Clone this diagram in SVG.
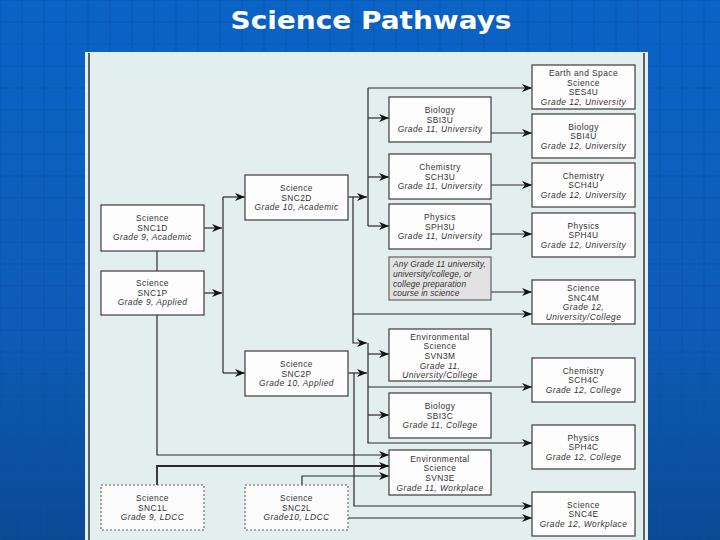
<svg xmlns="http://www.w3.org/2000/svg" width="720" height="540" viewBox="0 0 720 540">
<defs>
<linearGradient id="bg" x1="0" y1="0" x2="0" y2="1">
<stop offset="0" stop-color="#0b63c6"/>
<stop offset="0.6" stop-color="#0e5cb8"/>
<stop offset="1" stop-color="#0a4a95"/>
</linearGradient>
<pattern id="grid" width="22" height="22" patternUnits="userSpaceOnUse">
<rect x="0" y="0" width="22" height="22" fill="none" stroke="#0a4f9f" stroke-width="1.2" opacity="0.5"/>
</pattern>
<marker id="ah" markerUnits="userSpaceOnUse" markerWidth="11" markerHeight="8" refX="10" refY="4" orient="auto" viewBox="0 0 10 8">
<path d="M0,0 L10,4 L0,8 L3,4 z" fill="#111"/>
</marker>
<style>
.box{fill:#fdfdfd;stroke:#4a4a4a;stroke-width:1.3}
.dash{fill:#fbfbfb;stroke:#666;stroke-width:1.1;stroke-dasharray:2 2}
.grey{fill:#e2e2e2;stroke:#6a6a6a;stroke-width:1.3}
text{font-family:"Liberation Sans",Arial,sans-serif;font-size:8.4px;letter-spacing:0.45px;fill:#333;text-anchor:middle}
.i{font-style:italic}
.l{text-anchor:start;letter-spacing:0.1px}
.c path{fill:none;stroke:#2a2a2a;stroke-width:1.2}
.c .a{marker-end:url(#ah)}
</style>
</defs>
<rect width="720" height="540" fill="url(#bg)"/>
<rect width="720" height="540" fill="url(#grid)"/>
<text x="371" y="29" style="font-family:'DejaVu Sans','Liberation Sans',sans-serif;font-size:24px;font-weight:bold;fill:#fff;letter-spacing:0" textLength="281" lengthAdjust="spacingAndGlyphs">Science Pathways</text>
<rect x="85" y="52" width="563" height="488" fill="#e3eeee"/>
<line x1="89" y1="53" x2="89" y2="540" stroke="#333" stroke-width="1.5"/>
<line x1="644" y1="53" x2="644" y2="540" stroke="#333" stroke-width="1.5"/>

<g id="connectors" class="c">
<path class="a" d="M204,228 H222"/>
<path class="a" d="M204,293 H222"/>
<path d="M223,197 V373"/>
<path class="a" d="M223,197 H245"/>
<path class="a" d="M223,373 H245"/>
<path d="M157,251 V271"/>
<path class="a" d="M157,315 V455 H389"/>
<path class="a" d="M157,485 V466 H389" style="stroke-width:1.8"/>
<path class="a" d="M302,485 V476 H389"/>
<path class="a" d="M348,197 H367"/>
<path d="M368,88 V226"/>
<path class="a" d="M368,88 H532"/>
<path class="a" d="M368,118 H389"/>
<path class="a" d="M368,177 H389"/>
<path class="a" d="M368,226 H389"/>
<path class="a" d="M353,197 V343 H367"/>
<path class="a" d="M353,314 H532"/>
<path class="a" d="M348,373 H367"/>
<path class="a" d="M354,373 V506 H532"/>
<path class="a" d="M368,343 V443 H532"/>
<path class="a" d="M368,354 H389"/>
<path class="a" d="M368,387 H532"/>
<path class="a" d="M368,415 H389"/>
<path class="a" d="M491,133 H532"/>
<path class="a" d="M491,185 H532"/>
<path class="a" d="M491,234 H532"/>
<path class="a" d="M491,292 H532"/>
<path class="a" d="M348,518 H532"/>
</g>

<g id="SNC1D"><rect class="box" x="101" y="205" width="103" height="46"/>
<text x="152.5" y="221">Science</text><text x="152.5" y="230.7">SNC1D</text><text class="i" x="152.5" y="240.4">Grade 9, Academic</text></g>
<g id="SNC1P"><rect class="box" x="101" y="271" width="103" height="44"/>
<text x="152.5" y="286">Science</text><text x="152.5" y="295.7">SNC1P</text><text class="i" x="152.5" y="305.4">Grade 9, Applied</text></g>
<g id="SNC1L"><rect class="dash" x="101" y="485" width="103" height="45"/>
<text x="152.5" y="501">Science</text><text x="152.5" y="510.7">SNC1L</text><text class="i" x="152.5" y="520.4">Grade 9, LDCC</text></g>

<g id="SNC2D"><rect class="box" x="245" y="175" width="103" height="45"/>
<text x="296.5" y="191">Science</text><text x="296.5" y="200.7">SNC2D</text><text class="i" x="296.5" y="210.4">Grade 10, Academic</text></g>
<g id="SNC2P"><rect class="box" x="245" y="351" width="103" height="45"/>
<text x="296.5" y="367">Science</text><text x="296.5" y="376.7">SNC2P</text><text class="i" x="296.5" y="386.4">Grade 10, Applied</text></g>
<g id="SNC2L"><rect class="dash" x="245" y="485" width="103" height="45"/>
<text x="296.5" y="501">Science</text><text x="296.5" y="510.7">SNC2L</text><text class="i" x="296.5" y="520.4">Grade10, LDCC</text></g>

<g id="SBI3U"><rect class="box" x="389" y="97" width="102" height="45"/>
<text x="440" y="113">Biology</text><text x="440" y="122.7">SBI3U</text><text class="i" x="440" y="132.4">Grade 11, University</text></g>
<g id="SCH3U"><rect class="box" x="389" y="154" width="102" height="45"/>
<text x="440" y="170">Chemistry</text><text x="440" y="179.7">SCH3U</text><text class="i" x="440" y="189.4">Grade 11, University</text></g>
<g id="SPH3U"><rect class="box" x="389" y="204" width="102" height="45"/>
<text x="440" y="220">Physics</text><text x="440" y="229.7">SPH3U</text><text class="i" x="440" y="239.4">Grade 11, University</text></g>
<g id="AnyGrade11"><rect class="grey" x="389" y="257" width="102" height="43"/>
<text class="i l" x="393" y="267.3">Any Grade 11 university,</text><text class="i l" x="393" y="277">university/college, or</text><text class="i l" x="393" y="286.7">college preparation</text><text class="i l" x="393" y="296.4">course in science</text></g>
<g id="SVN3M"><rect class="box" x="389" y="329" width="102" height="52"/>
<text x="440" y="339.5">Environmental</text><text x="440" y="349.2">Science</text><text x="440" y="358.9">SVN3M</text><text class="i" x="440" y="368.6">Grade 11,</text><text class="i" x="440" y="378.3">University/College</text></g>
<g id="SBI3C"><rect class="box" x="389" y="393" width="102" height="45"/>
<text x="440" y="409">Biology</text><text x="440" y="418.7">SBI3C</text><text class="i" x="440" y="428.4">Grade 11, College</text></g>
<g id="SVN3E"><rect class="box" x="389" y="450" width="102" height="45"/>
<text x="440" y="461.7">Environmental</text><text x="440" y="471.4">Science</text><text x="440" y="481.1">SVN3E</text><text class="i" x="440" y="490.8">Grade 11, Workplace</text></g>

<g id="SES4U"><rect class="box" x="532" y="65" width="103" height="44"/>
<text x="583.5" y="75.8">Earth and Space</text><text x="583.5" y="85.5">Science</text><text x="583.5" y="95.2">SES4U</text><text class="i" x="583.5" y="104.9">Grade 12, University</text></g>
<g id="SBI4U"><rect class="box" x="532" y="114" width="103" height="44"/>
<text x="583.5" y="129.5">Biology</text><text x="583.5" y="139.2">SBI4U</text><text class="i" x="583.5" y="148.9">Grade 12, University</text></g>
<g id="SCH4U"><rect class="box" x="532" y="163" width="103" height="44"/>
<text x="583.5" y="178.5">Chemistry</text><text x="583.5" y="188.2">SCH4U</text><text class="i" x="583.5" y="197.9">Grade 12, University</text></g>
<g id="SPH4U"><rect class="box" x="532" y="213" width="103" height="44"/>
<text x="583.5" y="228.5">Physics</text><text x="583.5" y="238.2">SPH4U</text><text class="i" x="583.5" y="247.9">Grade 12, University</text></g>
<g id="SNC4M"><rect class="box" x="532" y="280" width="103" height="44"/>
<text x="583.5" y="290.8">Science</text><text x="583.5" y="300.5">SNC4M</text><text class="i" x="583.5" y="310.2">Grade 12,</text><text class="i" x="583.5" y="319.9">University/College</text></g>
<g id="SCH4C"><rect class="box" x="532" y="358" width="103" height="44"/>
<text x="583.5" y="373.5">Chemistry</text><text x="583.5" y="383.2">SCH4C</text><text class="i" x="583.5" y="392.9">Grade 12, College</text></g>
<g id="SPH4C"><rect class="box" x="532" y="425" width="103" height="44"/>
<text x="583.5" y="440.5">Physics</text><text x="583.5" y="450.2">SPH4C</text><text class="i" x="583.5" y="459.9">Grade 12, College</text></g>
<g id="SNC4E"><rect class="box" x="532" y="492" width="103" height="44"/>
<text x="583.5" y="507.5">Science</text><text x="583.5" y="517.2">SNC4E</text><text class="i" x="583.5" y="526.9">Grade 12, Workplace</text></g>
</svg>
